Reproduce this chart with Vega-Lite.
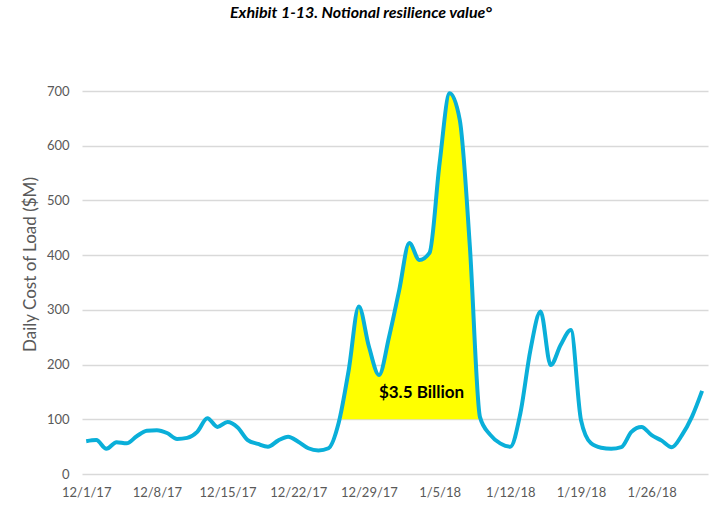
{
  "$schema": "https://vega.github.io/schema/vega-lite/v6.json",
  "width": 626,
  "height": 383,
  "autosize": "none",
  "padding": {"left": 82, "top": 91, "right": 8, "bottom": 34},
  "background": "white",
  "title": {
    "text": "Exhibit 1-13. Notional resilience value°",
    "font": "Lato",
    "fontSize": 16,
    "fontStyle": "italic",
    "fontWeight": "bold",
    "color": "#000000",
    "anchor": "middle",
    "dx": -34,
    "offset": 64
  },
  "config": {
    "view": {"stroke": null},
    "axis": {"labelFont": "Lato", "titleFont": "Lato", "labelColor": "#595959", "titleColor": "#595959"}
  },
  "datasets": {
    "cost": [
      {"date": "2017-12-01", "value": 60},
      {"date": "2017-12-02", "value": 62},
      {"date": "2017-12-03", "value": 46},
      {"date": "2017-12-04", "value": 58},
      {"date": "2017-12-05", "value": 56},
      {"date": "2017-12-06", "value": 69},
      {"date": "2017-12-07", "value": 79},
      {"date": "2017-12-08", "value": 80},
      {"date": "2017-12-09", "value": 75},
      {"date": "2017-12-10", "value": 64},
      {"date": "2017-12-11", "value": 66},
      {"date": "2017-12-12", "value": 77},
      {"date": "2017-12-13", "value": 102},
      {"date": "2017-12-14", "value": 86},
      {"date": "2017-12-15", "value": 95},
      {"date": "2017-12-16", "value": 85},
      {"date": "2017-12-17", "value": 62},
      {"date": "2017-12-18", "value": 55},
      {"date": "2017-12-19", "value": 50},
      {"date": "2017-12-20", "value": 61},
      {"date": "2017-12-21", "value": 68},
      {"date": "2017-12-22", "value": 59},
      {"date": "2017-12-23", "value": 47},
      {"date": "2017-12-24", "value": 43},
      {"date": "2017-12-25", "value": 47},
      {"date": "2017-12-26", "value": 93},
      {"date": "2017-12-27", "value": 190},
      {"date": "2017-12-28", "value": 306},
      {"date": "2017-12-29", "value": 233},
      {"date": "2017-12-30", "value": 181},
      {"date": "2017-12-31", "value": 251},
      {"date": "2018-01-01", "value": 336},
      {"date": "2018-01-02", "value": 422},
      {"date": "2018-01-03", "value": 391},
      {"date": "2018-01-04", "value": 404},
      {"date": "2018-01-05", "value": 568},
      {"date": "2018-01-06", "value": 696},
      {"date": "2018-01-07", "value": 647},
      {"date": "2018-01-08", "value": 415},
      {"date": "2018-01-09", "value": 104},
      {"date": "2018-01-10", "value": 72},
      {"date": "2018-01-11", "value": 56},
      {"date": "2018-01-12", "value": 50},
      {"date": "2018-01-13", "value": 111},
      {"date": "2018-01-14", "value": 227},
      {"date": "2018-01-15", "value": 297},
      {"date": "2018-01-16", "value": 199},
      {"date": "2018-01-17", "value": 236},
      {"date": "2018-01-18", "value": 263},
      {"date": "2018-01-19", "value": 99},
      {"date": "2018-01-20", "value": 56},
      {"date": "2018-01-21", "value": 48},
      {"date": "2018-01-22", "value": 46},
      {"date": "2018-01-23", "value": 49},
      {"date": "2018-01-24", "value": 77},
      {"date": "2018-01-25", "value": 86},
      {"date": "2018-01-26", "value": 71},
      {"date": "2018-01-27", "value": 61},
      {"date": "2018-01-28", "value": 49},
      {"date": "2018-01-29", "value": 71},
      {"date": "2018-01-30", "value": 105},
      {"date": "2018-01-31", "value": 152}
    ],
    "area": [
      {"date": "2017-12-26T07:00:00Z", "value": 100},
      {"date": "2017-12-27T00:00:00Z", "value": 190},
      {"date": "2017-12-28T00:00:00Z", "value": 306},
      {"date": "2017-12-29T00:00:00Z", "value": 233},
      {"date": "2017-12-30T00:00:00Z", "value": 181},
      {"date": "2017-12-31T00:00:00Z", "value": 251},
      {"date": "2018-01-01T00:00:00Z", "value": 336},
      {"date": "2018-01-02T00:00:00Z", "value": 422},
      {"date": "2018-01-03T00:00:00Z", "value": 391},
      {"date": "2018-01-04T00:00:00Z", "value": 404},
      {"date": "2018-01-05T00:00:00Z", "value": 568},
      {"date": "2018-01-06T00:00:00Z", "value": 696},
      {"date": "2018-01-07T00:00:00Z", "value": 647},
      {"date": "2018-01-08T00:00:00Z", "value": 415},
      {"date": "2018-01-09T01:00:00Z", "value": 100}
    ],
    "label": [
      {"date": "2018-01-03T05:00:00Z", "value": 148, "text": "$3.5 Billion"}
    ]
  },
  "encoding": {
    "x": {
      "field": "date",
      "type": "temporal",
      "scale": {"type": "utc", "domain": [1512050400000, 1517407200000]},
      "axis": {
        "title": null,
        "values": [1512086400000, 1512691200000, 1513296000000, 1513900800000, 1514505600000, 1515110400000, 1515715200000, 1516320000000, 1516924800000],
        "format": "%-m/%-d/%y",
        "grid": false,
        "domain": false,
        "ticks": false,
        "labelPadding": 12,
        "labelFontSize": 13,
        "labelOverlap": false
      }
    },
    "y": {
      "field": "value",
      "type": "quantitative",
      "scale": {"domain": [0, 700], "nice": false},
      "axis": {
        "title": "Daily Cost of Load ($M)",
        "values": [0, 100, 200, 300, 400, 500, 600, 700],
        "grid": true,
        "gridColor": "#D9D9D9",
        "gridWidth": 1.5,
        "domain": false,
        "ticks": false,
        "labelPadding": 13,
        "labelFontSize": 13,
        "titleFontSize": 17,
        "titleFontWeight": "normal",
        "titlePadding": 7,
        "titleY": 173
      }
    }
  },
  "layer": [
    {
      "data": {"name": "area"},
      "mark": {"type": "area", "color": "#FFFF00", "opacity": 1, "interpolate": "monotone"},
      "encoding": {"y2": {"datum": 100}}
    },
    {
      "data": {"name": "cost"},
      "mark": {"type": "line", "color": "#0AAFD9", "strokeWidth": 4, "interpolate": "monotone"},
      "encoding": {}
    },
    {
      "data": {"name": "label"},
      "mark": {"type": "text", "font": "Lato", "fontSize": 17, "fontWeight": "bold", "color": "#000000"},
      "encoding": {"text": {"field": "text"}}
    }
  ]
}
